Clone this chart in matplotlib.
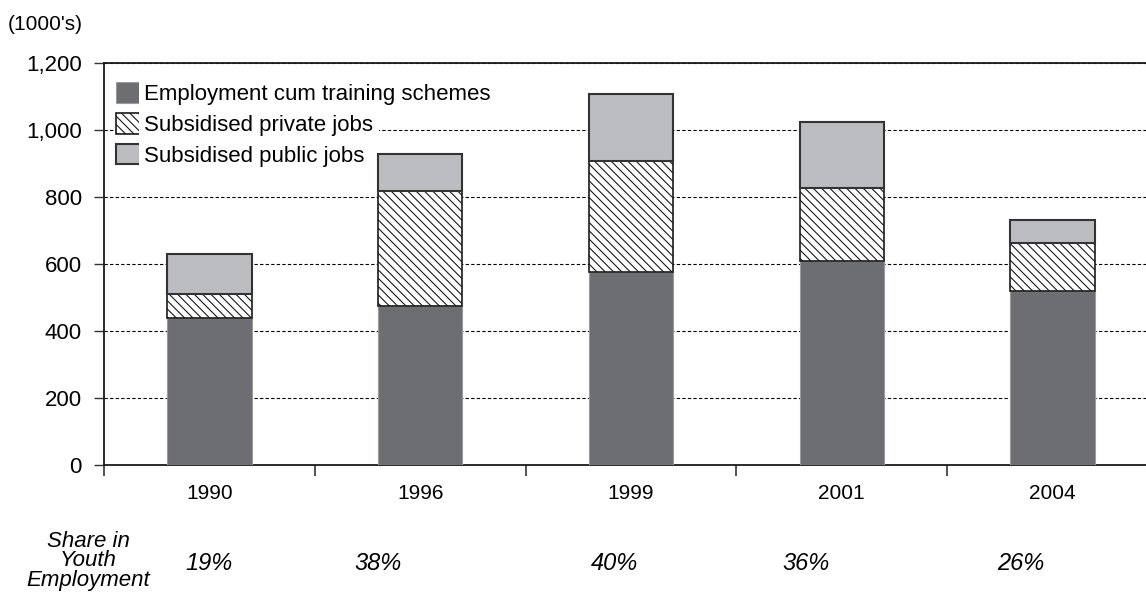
import matplotlib
matplotlib.use("AGG")
from matplotlib import pyplot as plt
import numpy as np

plt.rcParams["font.family"] = ["Liberation Sans", "DejaVu Sans"]
plt.rcParams["hatch.linewidth"] = 0.8

years = ["1990", "1996", "1999", "2001", "2004"]
training = [439, 475, 575, 610, 520]
private_jobs = [71, 344, 333, 216, 144]
public_jobs = [120, 108, 198, 197, 67]
shares = ["19%", "38%", "40%", "36%", "26%"]
share_pos = [0.0, 0.8, 1.92, 2.83, 3.85]

fig = plt.figure(figsize=(11.46, 5.93), dpi=100)
ax = fig.add_axes([104 / 1146, 1 - 465 / 593, 1054 / 1146, 402 / 593])
ax.set_axisbelow(True)

x = np.arange(len(years))
w = 0.4
bottom2 = np.array(training)
bottom3 = bottom2 + np.array(private_jobs)

ax.bar(x, training, w, color="#6d6e71", edgecolor="#9a9a9c", linewidth=0.8,
       label="Employment cum training schemes", zorder=3)
ax.bar(x, private_jobs, w, bottom=bottom2, color="white", edgecolor="#1a1a1a",
       hatch="\\\\\\\\", linewidth=1.2, label="Subsidised private jobs", zorder=3)
ax.bar(x, public_jobs, w, bottom=bottom3, color="#bcbdc1", edgecolor="#333333",
       linewidth=1.5, label="Subsidised public jobs", zorder=3)

ax.set_xlim(-0.5, len(years) - 0.5)
ax.set_ylim(0, 1200)
ax.set_yticks(range(0, 1201, 200))
ax.set_yticklabels([f"{v:,}" for v in range(0, 1201, 200)], fontsize=16)
ax.yaxis.grid(True, linestyle=(0, (3, 2)), color="black", linewidth=0.8)

# year labels in the middle, ticks at category boundaries
ax.set_xticks(x)
ax.set_xticklabels(years, fontsize=15)
ax.tick_params(axis="x", which="major", length=0, pad=14)
ax.set_xticks(np.arange(-0.5, len(years) + 0.5, 1), minor=True)
ax.tick_params(axis="x", which="minor", length=8, width=1.2, color="#333333")
ax.tick_params(axis="y", length=7, width=1, color="#333333", pad=9)

ax.spines["right"].set_visible(False)
for s in ["left", "bottom", "top"]:
    ax.spines[s].set_linewidth(1.3)
    ax.spines[s].set_color("#1a1a1a")

leg = ax.legend(loc="upper left", frameon=False, fontsize=16, handlelength=1.05,
                handleheight=1.05, handletextpad=0.2, labelspacing=0.35,
                borderaxespad=0.2, bbox_to_anchor=(-0.001, 0.985))
leg.set_zorder(2)
for t in leg.get_texts():
    t.set_bbox(dict(facecolor="white", edgecolor="none", pad=4))

fig.text(8 / 1146, 1 - 24 / 593, "(1000's)", fontsize=15, va="center", ha="left")
fig.text(88 / 1146, 1 - 561 / 593, "Share in\nYouth\nEmployment", fontsize=16,
         style="italic", ha="center", va="center", linespacing=0.9)
trans = matplotlib.transforms.blended_transform_factory(ax.transData, fig.transFigure)
for p, s in zip(share_pos, shares):
    ax.text(p, 1 - 563 / 593, s, transform=trans, fontsize=17, style="italic",
            ha="center", va="center")

fig.savefig("out.png", dpi=100)
